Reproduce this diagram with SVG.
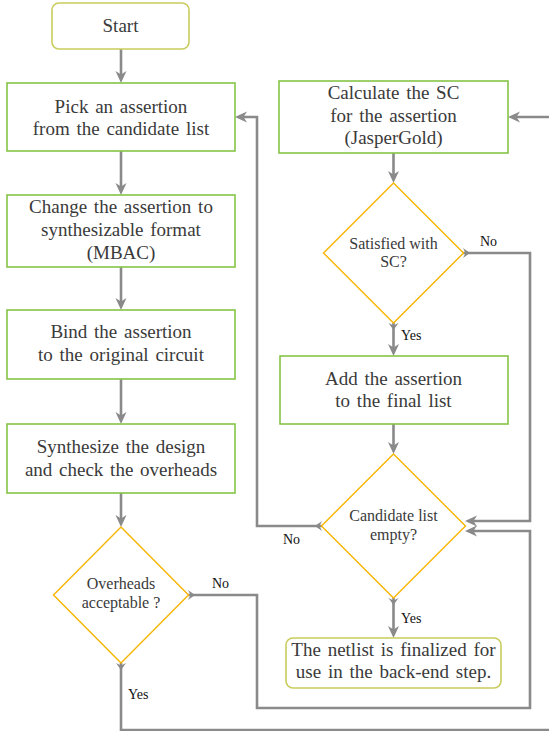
<svg xmlns="http://www.w3.org/2000/svg" width="549" height="731" viewBox="0 0 549 731">
<defs>
<style>
.box{fill:#fff;stroke:#85c446;stroke-width:1.6}
.term{fill:#fff;stroke:#c9cc5c;stroke-width:1.6}
.dec{fill:#fff;stroke:#f7b500;stroke-width:1.4}
text{font-family:'Liberation Serif','DejaVu Serif',serif}
.t{font-size:19px;fill:#3a3a3a;text-anchor:middle;word-spacing:2px}
.td{font-size:16px;fill:#3a3a3a;text-anchor:middle}
.lb{font-size:14px;fill:#111}
.c{fill:none;stroke:#8a8a8a;stroke-width:2.6;stroke-linejoin:miter}
.ca{marker-end:url(#ah)}
.ct{marker-start:url(#tail);marker-end:url(#ah)}
</style>
<marker id="ah" markerUnits="userSpaceOnUse" markerWidth="14" markerHeight="14" refX="4" refY="0" orient="auto" overflow="visible">
<path d="M0,-5.5 L12,0 L0,5.5 L3.5,0 Z" fill="#8a8a8a"/>
</marker>
<marker id="tail" markerUnits="userSpaceOnUse" markerWidth="10" markerHeight="12" refX="0" refY="0" orient="auto" overflow="visible">
<path d="M0,-5 L7,0 L0,5 L2.5,0 Z" fill="#8a8a8a"/>
</marker>
</defs>

<g id="connectors">
<path class="c ca" d="M121,49 V75"/>
<path class="c ca" d="M121,151 V187"/>
<path class="c ca" d="M121,267 V302"/>
<path class="c ca" d="M121,379 V416"/>
<path class="c ca" d="M121,493 V519"/>
<path class="c ct" d="M121,663 V730 H553 V117 H516"/>
<path class="c ct" d="M188,595 H257 V708 H530 V531 H473"/>
<path class="c ca" d="M393.5,153 V175"/>
<path class="c ct" d="M393.5,323 V348"/>
<path class="c ct" d="M463,253 H530 V521 H473"/>
<path class="c ca" d="M393.5,424 V446"/>
<path class="c ct" d="M393.5,598 V630"/>
<path class="c ct" d="M322,526 H257 V117 H243"/>
</g>

<g id="labels" font-family="Liberation Serif, serif">
<text class="lb" x="480" y="246">No</text>
<text class="lb" x="401" y="340">Yes</text>
<text class="lb" x="283" y="544">No</text>
<text class="lb" x="401" y="623">Yes</text>
<text class="lb" x="212" y="588">No</text>
<text class="lb" x="128" y="699">Yes</text>
</g>

<g id="start">
<rect class="term" x="52" y="3" width="137" height="46" rx="7"/>
<text class="t" x="120.5" y="32">Start</text>
</g>

<g id="pick">
<rect class="box" x="7" y="83" width="228" height="68"/>
<text class="t" x="121" y="113">Pick an assertion</text>
<text class="t" x="121" y="135">from the candidate list</text>
</g>

<g id="change">
<rect class="box" x="7" y="195" width="228" height="72"/>
<text class="t" x="121" y="213">Change the assertion to</text>
<text class="t" x="121" y="236">synthesizable format</text>
<text class="t" x="121" y="259">(MBAC)</text>
</g>

<g id="bind">
<rect class="box" x="7" y="310" width="228" height="69"/>
<text class="t" x="121" y="338">Bind the assertion</text>
<text class="t" x="121" y="361">to the original circuit</text>
</g>

<g id="synth">
<rect class="box" x="7" y="424" width="228" height="69"/>
<text class="t" x="121" y="453">Synthesize the design</text>
<text class="t" x="121" y="476">and check the overheads</text>
</g>

<g id="overheads">
<polygon class="dec" points="121,527 188.5,595 121,663 53.5,595"/>
<text class="td" x="121" y="589">Overheads</text>
<text class="td" x="121" y="608">acceptable ?</text>
</g>

<g id="calculate">
<rect class="box" x="279" y="81" width="229" height="72"/>
<text class="t" x="393.5" y="99">Calculate the SC</text>
<text class="t" x="393.5" y="122">for the assertion</text>
<text class="t" x="393.5" y="144">(JasperGold)</text>
</g>

<g id="satisfied">
<polygon class="dec" points="393.5,183 463.5,253 393.5,323 323.5,253"/>
<text class="td" x="393.5" y="249">Satisfied with</text>
<text class="td" x="393.5" y="267">SC?</text>
</g>

<g id="add">
<rect class="box" x="280" y="356" width="228" height="68"/>
<text class="t" x="393.5" y="385">Add the assertion</text>
<text class="t" x="393.5" y="407">to the final list</text>
</g>

<g id="candidate">
<polygon class="dec" points="393.5,454 465.5,526 393.5,598 321.5,526"/>
<text class="td" x="393.5" y="521">Candidate list</text>
<text class="td" x="393.5" y="540">empty?</text>
</g>

<g id="netlist">
<rect class="term" x="286" y="638" width="215" height="50" rx="7"/>
<text class="t" x="393.5" y="656">The netlist is finalized for</text>
<text class="t" x="393.5" y="678">use in the back-end step.</text>
</g>
</svg>
